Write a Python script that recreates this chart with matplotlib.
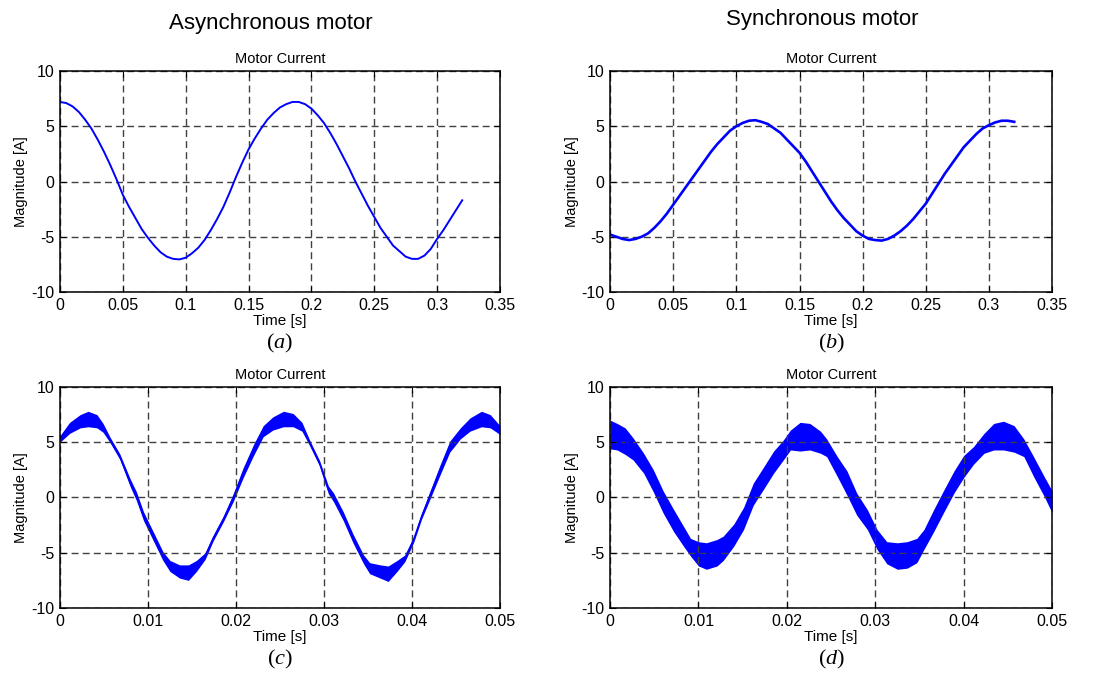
import matplotlib
matplotlib.use("Agg")
import matplotlib.pyplot as plt

plt.rcParams["font.family"] = ["Liberation Sans", "DejaVu Sans"]
plt.rcParams["axes.unicode_minus"] = False
plt.rcParams["mathtext.fontset"] = "custom"
plt.rcParams["mathtext.rm"] = "Liberation Serif"
plt.rcParams["mathtext.it"] = "Liberation Serif:italic"

# ---- (a) asynchronous motor, long window (5 ms steps) ----
t_a = [0.000, 0.005, 0.010, 0.015, 0.020, 0.025, 0.030, 0.035, 0.040, 0.045,
       0.050, 0.055, 0.060, 0.065, 0.070, 0.075, 0.080, 0.085, 0.090, 0.095,
       0.100, 0.105, 0.110, 0.115, 0.120, 0.125, 0.130, 0.135, 0.140, 0.145,
       0.150, 0.155, 0.160, 0.165, 0.170, 0.175, 0.180, 0.185, 0.190, 0.195,
       0.200, 0.205, 0.210, 0.215, 0.220, 0.225, 0.230, 0.235, 0.240, 0.245,
       0.250, 0.255, 0.260, 0.265, 0.270, 0.275, 0.280, 0.285, 0.290, 0.295,
       0.300, 0.305, 0.310, 0.315, 0.320]
i_a = [7.2, 7.1, 6.8, 6.3, 5.6, 4.8, 3.8, 2.7, 1.5, 0.2,
       -1.2, -2.3, -3.3, -4.3, -5.1, -5.8, -6.4, -6.8, -7.0, -7.05,
       -6.9, -6.5, -6.0, -5.3, -4.4, -3.4, -2.3, -1.0, 0.4, 1.7,
       2.9, 3.9, 4.8, 5.6, 6.2, 6.7, 7.0, 7.2, 7.2, 7.0,
       6.6, 6.0, 5.3, 4.4, 3.4, 2.3, 1.2, 0.0, -1.1, -2.2,
       -3.2, -4.2, -5.0, -5.8, -6.3, -6.8, -7.0, -7.0, -6.7, -6.1,
       -5.2, -4.4, -3.5, -2.6, -1.7]

# ---- (b) synchronous motor, long window (5 ms steps) ----
t_b = list(t_a)
i_b = [-4.8, -5.0, -5.2, -5.3, -5.2, -5.0, -4.7, -4.2, -3.6, -2.9,
       -2.1, -1.3, -0.5, 0.3, 1.1, 1.9, 2.7, 3.4, 4.0, 4.6,
       5.0, 5.3, 5.5, 5.55, 5.4, 5.2, 4.8, 4.4, 3.8, 3.2,
       2.6, 1.8, 0.9, 0.0, -0.9, -1.8, -2.6, -3.3, -3.9, -4.5,
       -4.9, -5.2, -5.3, -5.35, -5.2, -4.9, -4.5, -4.0, -3.4, -2.7,
       -2.0, -1.1, -0.2, 0.7, 1.5, 2.3, 3.1, 3.7, 4.3, 4.8,
       5.1, 5.35, 5.5, 5.5, 5.4]

# ---- (c) asynchronous motor, zoomed window: centre and ripple half-width ----
t_c = [0.0000, 0.0011, 0.0023, 0.0032, 0.0042, 0.0049, 0.0057, 0.0068, 0.0080,
       0.0087, 0.0095, 0.0106, 0.0117, 0.0125, 0.0136, 0.0146, 0.0155, 0.0165,
       0.0174, 0.0186, 0.0197, 0.0208, 0.0220, 0.0231, 0.0242, 0.0254, 0.0265,
       0.0275, 0.0284, 0.0295, 0.0305, 0.0311, 0.0322, 0.0333, 0.0345, 0.0352,
       0.0364, 0.0373, 0.0383, 0.0392, 0.0402, 0.0411, 0.0420, 0.0432, 0.0443,
       0.0455, 0.0466, 0.0479, 0.0489, 0.0500]
i_c = [5.3, 6.3, 6.9, 7.1, 6.9, 6.3, 5.2, 3.7, 1.3,
       0.1, -1.7, -3.5, -5.3, -6.2, -6.7, -6.8, -6.2, -5.3,
       -3.7, -1.9, 0.0, 2.2, 4.3, 6.0, 6.7, 7.1, 7.0,
       6.4, 4.9, 3.1, 0.7, 0.0, -1.7, -3.7, -5.6, -6.4,
       -6.7, -6.9, -6.2, -5.5, -3.8, -1.7, 0.1, 2.5, 4.6,
       5.8, 6.6, 7.1, 6.9, 6.1]
w_c = [0.3, 0.5, 0.6, 0.7, 0.6, 0.4, 0.25, 0.25, 0.35,
       0.4, 0.4, 0.4, 0.4, 0.5, 0.6, 0.7, 0.5, 0.3,
       0.25, 0.25, 0.35, 0.45, 0.5, 0.5, 0.6, 0.7, 0.6,
       0.4, 0.25, 0.25, 0.35, 0.4, 0.4, 0.4, 0.4, 0.5,
       0.6, 0.7, 0.5, 0.3, 0.25, 0.25, 0.35, 0.45, 0.5,
       0.5, 0.6, 0.7, 0.6, 0.4]

# ---- (d) synchronous motor, zoomed window: centre and ripple half-width ----
t_d = [0.0000, 0.0008, 0.0017, 0.0026, 0.0038, 0.0049, 0.0060, 0.0072, 0.0083,
       0.0091, 0.0100, 0.0109, 0.0121, 0.0128, 0.0140, 0.0151, 0.0162, 0.0174,
       0.0185, 0.0196, 0.0204, 0.0215, 0.0226, 0.0238, 0.0245, 0.0257, 0.0268,
       0.0279, 0.0291, 0.0302, 0.0313, 0.0325, 0.0336, 0.0347, 0.0355, 0.0366,
       0.0377, 0.0389, 0.0400, 0.0411, 0.0423, 0.0434, 0.0445, 0.0457, 0.0468,
       0.0479, 0.0491, 0.0500]
i_d = [5.7, 5.5, 5.1, 4.4, 3.1, 1.5, -0.4, -2.1, -3.5,
       -4.5, -5.1, -5.3, -5.0, -4.6, -3.4, -1.9, 0.3, 1.8,
       3.2, 4.3, 5.2, 5.5, 5.5, 5.0, 4.5, 2.8, 1.3,
       -0.6, -2.0, -3.8, -5.0, -5.3, -5.2, -4.8, -3.8, -2.1,
       -0.4, 1.4, 2.8, 3.8, 4.9, 5.5, 5.6, 5.3, 4.5,
       2.8, 1.0, -0.4]
w_d = [1.3, 1.2, 1.2, 1.0, 0.9, 1.0, 1.0, 1.0, 0.9,
       0.8, 1.1, 1.2, 1.2, 1.1, 1.0, 1.0, 1.0, 1.0,
       1.0, 0.9, 0.9, 1.3, 1.2, 1.0, 0.8, 0.9, 1.1,
       1.0, 0.9, 0.9, 1.0, 1.2, 1.2, 1.1, 0.9, 1.0,
       1.0, 1.0, 1.0, 0.8, 0.9, 1.2, 1.3, 1.2, 0.8,
       0.9, 0.9, 1.0]

XTICKS_LONG = [0, 0.05, 0.1, 0.15, 0.2, 0.25, 0.3, 0.35]
XTICKS_SHORT = [0, 0.01, 0.02, 0.03, 0.04, 0.05]
YTICKS = [-10, -5, 0, 5, 10]
BLUE = "#0000ff"


def style_axes(ax, xticks, caption):
    ax.set_xlim(xticks[0], xticks[-1])
    ax.set_ylim(-10, 10)
    ax.set_xticks(xticks)
    ax.set_xticklabels(["%g" % v for v in xticks])
    ax.set_yticks(YTICKS)
    ax.set_yticklabels(["%d" % v for v in YTICKS])
    ax.tick_params(direction="in", length=4, width=0.8, labelsize=11.5,
                   top=True, right=True, pad=4)
    ax.grid(True, color="0.25", linestyle=(0, (5, 3)), linewidth=1.0)
    for sp in ax.spines.values():
        sp.set_linewidth(1.1)
    ax.set_title("Motor Current", fontsize=10.5, pad=6)
    ax.set_xlabel("Time [s]", fontsize=11, labelpad=1)
    ax.set_ylabel("Magnitude [A]", fontsize=10.5, labelpad=2)
    ax.text(0.5, -0.235, caption, transform=ax.transAxes, ha="center",
            va="center", fontsize=16)


fig = plt.figure(figsize=(10.98, 6.75), dpi=100)
ax_a = fig.add_axes([0.0546, 0.5674, 0.4007, 0.3274])
ax_b = fig.add_axes([0.5556, 0.5674, 0.4026, 0.3274])
ax_c = fig.add_axes([0.0546, 0.0993, 0.4007, 0.3274])
ax_d = fig.add_axes([0.5556, 0.0993, 0.4026, 0.3274])

ax_a.plot(t_a, i_a, color=BLUE, linewidth=1.4)
ax_b.plot(t_b, i_b, color=BLUE, linewidth=1.9)

lo_c = [c - w for c, w in zip(i_c, w_c)]
hi_c = [c + w for c, w in zip(i_c, w_c)]
ax_c.fill_between(t_c, lo_c, hi_c, color=BLUE, linewidth=0)
ax_c.plot(t_c, i_c, color=BLUE, linewidth=1.0)

lo_d = [c - w for c, w in zip(i_d, w_d)]
hi_d = [c + w for c, w in zip(i_d, w_d)]
ax_d.fill_between(t_d, lo_d, hi_d, color=BLUE, linewidth=0)
ax_d.plot(t_d, i_d, color=BLUE, linewidth=1.0)

style_axes(ax_a, XTICKS_LONG, r"$(\mathit{a})$")
style_axes(ax_b, XTICKS_LONG, r"$(\mathit{b})$")
style_axes(ax_c, XTICKS_SHORT, r"$(\mathit{c})$")
style_axes(ax_d, XTICKS_SHORT, r"$(\mathit{d})$")

fig.text(271 / 1098, 1 - 24 / 675, "Asynchronous motor", ha="center",
         va="center", fontsize=16)
fig.text(822 / 1098, 1 - 20 / 675, "Synchronous motor", ha="center",
         va="center", fontsize=16)

fig.savefig("out.png", dpi=100)
